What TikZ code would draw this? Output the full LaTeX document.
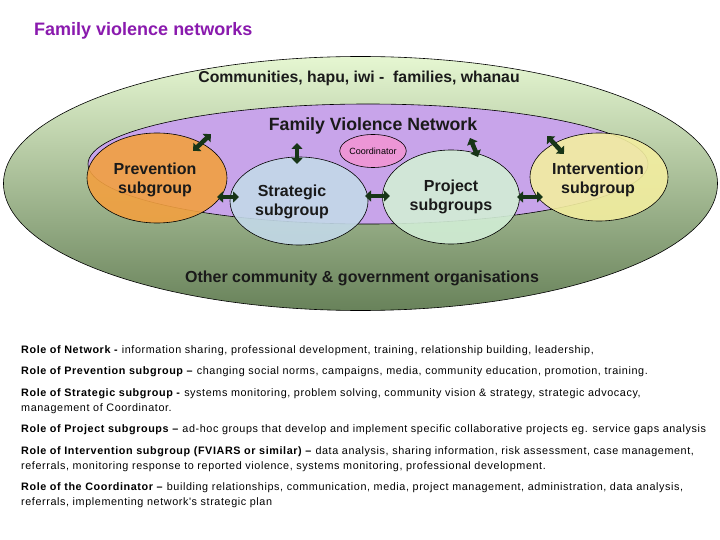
\documentclass[tikz,border=0pt]{standalone}
\usepackage{fontspec}
\setmainfont{Liberation Sans}
\newfontfamily\rolefont[LetterSpace=5.5]{Liberation Sans}
\usetikzlibrary{arrows.meta,shapes.geometric}
\definecolor{titlepurple}{HTML}{8A1AAE}
\definecolor{gtop}{HTML}{E6F7D2}
\definecolor{gmid}{HTML}{BCD89E}
\definecolor{gbot}{HTML}{68825A}
\definecolor{fvnpurple}{HTML}{C8A4EA}
\definecolor{coordpink}{HTML}{EC96D6}
\definecolor{prevorange}{HTML}{F2A040}
\definecolor{stratblue}{HTML}{C3D9E8}
\definecolor{projgreen}{HTML}{D2EED6}
\definecolor{intyellow}{HTML}{F3EEA0}
\definecolor{arrowgreen}{HTML}{173517}
\definecolor{labeltext}{HTML}{1A1A1A}
\begin{document}
\begin{tikzpicture}[x=1pt,y=-1pt,
  blob/.style={ellipse, draw=black, line width=0.6pt, inner sep=0pt},
  sub/.style={blob, fill opacity=0.9},
  lbl/.style={align=center, text=labeltext, font=\bfseries\fontsize{16}{18.5}\selectfont, inner sep=0pt},
  big/.style={text=labeltext, font=\bfseries\fontsize{15.8}{18}\selectfont, inner sep=0pt},
  dbl/.style={draw=arrowgreen, line width=4.5pt, {Triangle[length=6pt,width=11pt]}-{Triangle[length=6pt,width=11pt]}},
  role/.style={anchor=base west, inner sep=0pt, font=\rolefont\fontsize{10.8}{13}\selectfont}
]
\useasboundingbox (0,0) rectangle (720,540);
\fill[white] (0,0) rectangle (720,540);

\node[anchor=base west, inner sep=0pt, text=titlepurple, font=\bfseries\fontsize{18}{20}\selectfont] (title) at (34,36) {Family violence networks};

\node[blob, top color=gtop, middle color=gmid, bottom color=gbot, minimum width=714pt, minimum height=254pt] (outer) at (360.5,183.5) {};
\node[blob, fill=fvnpurple, minimum width=560pt, minimum height=120pt] (fvn) at (368,164) {};
\node[blob, fill=coordpink, minimum width=60pt, minimum height=33pt, font=\fontsize{9}{10}\selectfont] (coord) at (373,151) {Coordinator};

\node[sub, fill=prevorange, minimum width=140pt, minimum height=90pt] (prev) at (157,178) {};
\node[sub, fill=stratblue, minimum width=138pt, minimum height=88pt] (strat) at (299,201) {};
\node[sub, fill=projgreen, minimum width=137pt, minimum height=94pt] (proj) at (451,197) {};
\node[sub, fill=intyellow, minimum width=138pt, minimum height=88pt] (interv) at (599,177) {};

\node[big] (comm) at (359,78) {Communities, hapu, iwi -\ \ families, whanau};
\node[big, font=\bfseries\fontsize{17.7}{20}\selectfont] (fvntext) at (373,126) {Family Violence Network};
\node[big, font=\bfseries\fontsize{16}{18}\selectfont] (other) at (362,278) {Other community \& government organisations};

\node[lbl] (prevtext) at (155,180) {Prevention\\subgroup};
\node[lbl] (strattext) at (292,202) {Strategic\\subgroup};
\node[lbl] (projtext) at (451,197) {Project\\subgroups};
\node[lbl] (intertext) at (598,180) {Intervention\\subgroup};

\coordinate (a1s) at (217,197); \coordinate (a1e) at (239,197);
\coordinate (a2s) at (365,196); \coordinate (a2e) at (390,196);
\coordinate (a3s) at (517,197); \coordinate (a3e) at (543,197);
\coordinate (a4s) at (193,151); \coordinate (a4e) at (211,134);
\coordinate (a5s) at (297,164); \coordinate (a5e) at (297,143);
\coordinate (a6s) at (478,157); \coordinate (a6e) at (470,138);
\coordinate (a7s) at (564,154); \coordinate (a7e) at (547,136);
\draw[dbl] (a1s) -- (a1e);
\draw[dbl] (a2s) -- (a2e);
\draw[dbl] (a3s) -- (a3e);
\draw[dbl] (a4s) -- (a4e);
\draw[dbl] (a5s) -- (a5e);
\draw[dbl] (a6s) -- (a6e);
\draw[dbl] (a7s) -- (a7e);

\node[role] (r1) at (21,353) {\textbf{Role of Network -} information sharing, professional development, training, relationship building, leadership,};
\node[role] (r2) at (21,374) {\textbf{Role of Prevention subgroup –} changing social norms, campaigns, media, community education, promotion, training.};
\node[role] (r3) at (21,396) {\textbf{Role of Strategic subgroup -} systems monitoring, problem solving, community vision \& strategy, strategic advocacy,};
\node[role] (r3b) at (21,411) {management of Coordinator.};
\node[role] (r4) at (21,432) {\textbf{Role of Project subgroups –} ad-hoc groups that develop and implement specific collaborative projects eg. service gaps analysis};
\node[role] (r5) at (21,454) {\textbf{Role of Intervention subgroup (FVIARS or similar) –} data analysis, sharing information, risk assessment, case management,};
\node[role] (r5b) at (21,469) {referrals, monitoring response to reported violence, systems monitoring, professional development.};
\node[role] (r6) at (21,490) {\textbf{Role of the Coordinator –} building relationships, communication, media, project management, administration, data analysis,};
\node[role] (r6b) at (21,505) {referrals, implementing network's strategic plan};
\end{tikzpicture}
\end{document}
